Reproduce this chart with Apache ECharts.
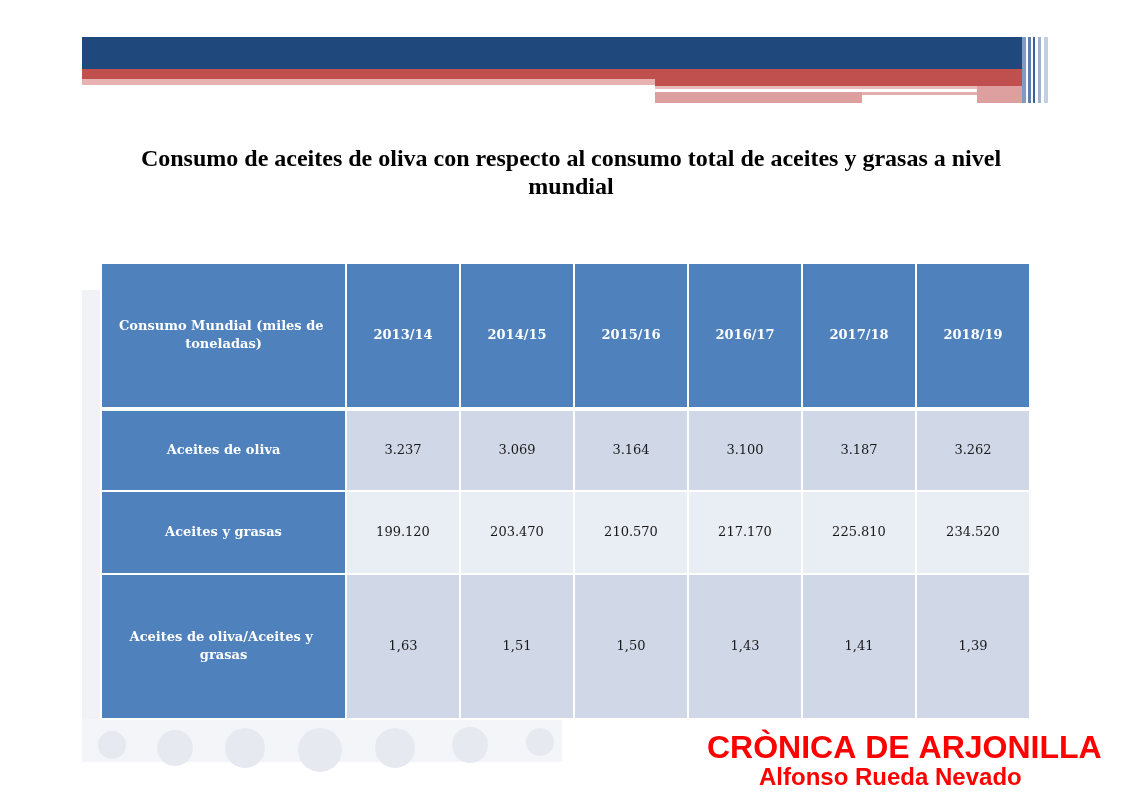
<!DOCTYPE html>
<html>
<head>
<meta charset="utf-8">
<script src="https://cdn.jsdelivr.net/npm/echarts@6/dist/echarts.min.js"></script>
<style>
  html, body { margin: 0; padding: 0; background: #ffffff; }
  #chart { width: 1131px; height: 800px; }
</style>
</head>
<body>
<div id="chart"></div>
<script>
// datos de la tabla
const headerLabel = 'Consumo Mundial (miles de toneladas)';
const seasons = ['2013/14', '2014/15', '2015/16', '2016/17', '2017/18', '2018/19'];
const rowLabels = ['Aceites de oliva', 'Aceites y grasas', 'Aceites de oliva/Aceites y grasas'];
const olivaValues = [3237, 3069, 3164, 3100, 3187, 3262];
const grasasValues = [199120, 203470, 210570, 217170, 225810, 234520];
const ratioValues = [1.63, 1.51, 1.50, 1.43, 1.41, 1.39];

// proporciones de columnas y filas (maquetacion)
const colWeights = [245, 114, 114, 114, 114, 114, 114];
const rowWeights = [145, 83, 83, 145];
const colEdges = [0];
colWeights.forEach(function (w, i) { colEdges.push(colEdges[i] + w); });
const rowEdges = [0];
rowWeights.forEach(function (h, i) { rowEdges.push(rowEdges[i] + h); });

const fmtMiles = function (v) {
    return String(v).replace(/\B(?=(\d{3})+(?!\d))/g, '.');
};
const fmtRatio = function (v) {
    return v.toFixed(2).replace('.', ',');
};

// celdas: [columna, fila, texto]
let cells = [];
cells.push([0, 0, headerLabel]);
seasons.forEach(function (s, i) { cells.push([i + 1, 0, s]); });
const rows = [olivaValues.map(fmtMiles), grasasValues.map(fmtMiles), ratioValues.map(fmtRatio)];
rowLabels.forEach(function (label, r) {
    cells.push([0, r + 1, label]);
    rows[r].forEach(function (txt, c) { cells.push([c + 1, r + 1, txt]); });
});

const bodyFills = ['#d0d8e8', '#e9edf4', '#d0d8e8'];

function renderCell(params, api) {
    let c = api.value(0);
    let r = api.value(1);
    let p0 = api.coord([colEdges[c], rowEdges[r]]);
    let p1 = api.coord([colEdges[c + 1], rowEdges[r + 1]]);
    let x = Math.min(p0[0], p1[0]);
    let y = Math.min(p0[1], p1[1]);
    let w = Math.abs(p1[0] - p0[0]);
    let h = Math.abs(p1[1] - p0[1]);
    let isHead = (r === 0 || c === 0);
    let gapTop = (r === 1) ? 2 : 0;
    return {
        type: 'rect',
        shape: { x: x, y: y + gapTop, width: w, height: h - gapTop },
        style: {
            fill: isHead ? '#4f81bd' : bodyFills[r - 1],
            stroke: '#ffffff',
            lineWidth: 2
        },
        textContent: {
            style: {
                text: cells[params.dataIndex][2],
                fill: isHead ? '#ffffff' : '#1a1a1a',
                font: (isHead ? 'bold ' : '') + '13px "DejaVu Serif", "Liberation Serif", serif',
                width: w - 22,
                overflow: 'break',
                align: 'center',
                lineHeight: 18
            }
        },
        textConfig: { position: 'inside' }
    };
}

// franjas decorativas de la cabecera
const bandRects = [
    { x: 82, y: 37, w: 940, h: 32, fill: '#1f497d' },
    { x: 82, y: 69, w: 573, h: 10, fill: '#c0504d' },
    { x: 82, y: 79, w: 573, h: 6, fill: '#e6b3b2' },
    { x: 655, y: 69, w: 367, h: 17, fill: '#c0504d' },
    { x: 655, y: 86, w: 322, h: 3, fill: '#e8bcbb' },
    { x: 655, y: 92, w: 207, h: 11, fill: '#dea09f' },
    { x: 862, y: 92, w: 115, h: 3, fill: '#e3aeae' },
    { x: 977, y: 86, w: 45, h: 17, fill: '#dea09f' },
    { x: 1022, y: 37, w: 4, h: 66, fill: '#7f9cc0' },
    { x: 1028, y: 37, w: 3, h: 66, fill: '#5d7fae' },
    { x: 1033, y: 37, w: 2, h: 66, fill: '#3d5f91' },
    { x: 1038, y: 37, w: 3, h: 66, fill: '#9fb4d1' },
    { x: 1044, y: 37, w: 4, h: 66, fill: '#c3d0e2' }
];

let graphics = bandRects.map(function (b) {
    return { type: 'rect', shape: { x: b.x, y: b.y, width: b.w, height: b.h }, style: { fill: b.fill }, silent: true };
});

// marca de agua tenue a la izquierda
const wmCircles = [[112, 745, 14], [175, 748, 18], [245, 748, 20], [320, 750, 22], [395, 748, 20], [470, 745, 18], [540, 742, 14]];
graphics.push({ type: 'rect', shape: { x: 82, y: 290, width: 19, height: 472 }, style: { fill: '#f0f2f6' }, silent: true });
graphics.push({ type: 'rect', shape: { x: 82, y: 719, width: 480, height: 43 }, style: { fill: '#f3f5f8' }, silent: true });
wmCircles.forEach(function (cc) {
    graphics.push({ type: 'circle', shape: { cx: cc[0], cy: cc[1], r: cc[2] }, style: { fill: '#e6eaf0' }, silent: true });
});

graphics.push({
    type: 'text', left: 707, top: 733,
    style: { text: 'CRÒNICA DE ARJONILLA', fill: '#ff0000', font: 'bold 32px "Liberation Sans", Arial, sans-serif' }
});
graphics.push({
    type: 'text', left: 759, top: 766,
    style: { text: 'Alfonso Rueda Nevado', fill: '#ff0000', font: 'bold 24px "Liberation Sans", Arial, sans-serif' }
});

let chart = echarts.init(document.getElementById('chart'), null, { renderer: 'canvas' });
chart.setOption({
    backgroundColor: '#ffffff',
    animation: false,
    title: {
        text: 'Consumo de aceites de oliva con respecto al consumo total de aceites y grasas a nivel\nmundial',
        left: 566,
        top: 141,
        textAlign: 'center',
        textStyle: {
            fontFamily: '"Liberation Serif", "Times New Roman", serif',
            fontWeight: 'bold',
            fontSize: 24,
            lineHeight: 28,
            color: '#000000'
        }
    },
    graphic: graphics,
    grid: { left: 101, top: 263, width: 929, height: 456 },
    xAxis: { type: 'value', min: 0, max: colEdges[colEdges.length - 1], show: false },
    yAxis: { type: 'value', min: 0, max: rowEdges[rowEdges.length - 1], inverse: true, show: false },
    series: [{
        type: 'custom',
        renderItem: renderCell,
        data: cells.map(function (d) { return [d[0], d[1]]; }),
        z: 3
    }]
});
</script>
</body>
</html>
